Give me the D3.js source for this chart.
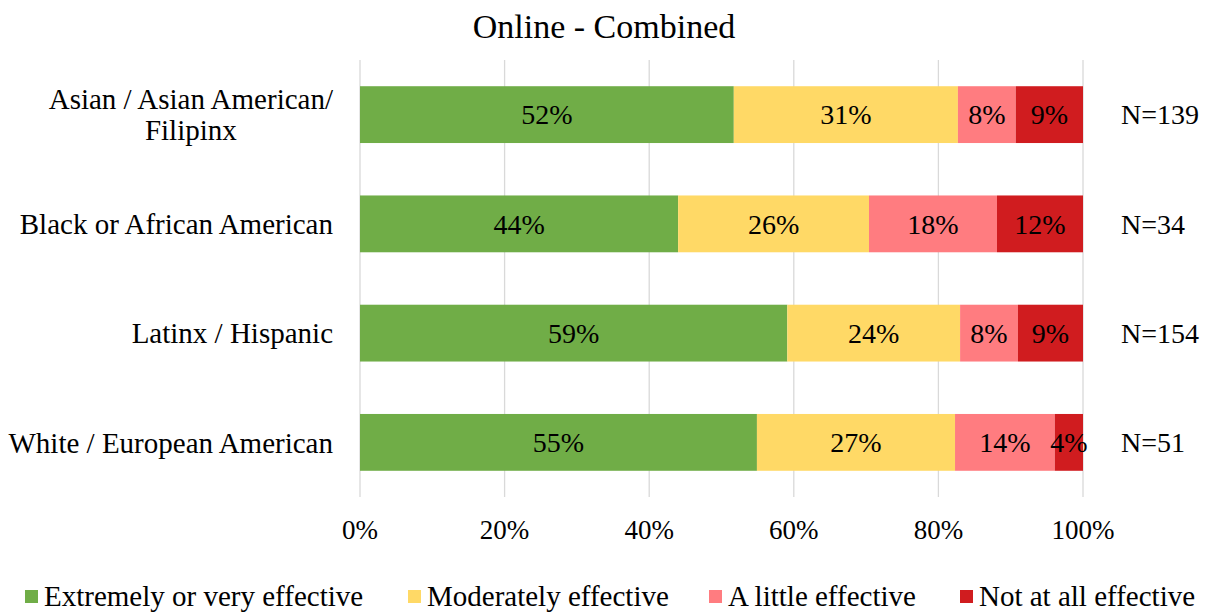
<!DOCTYPE html>
<html>
<head>
<meta charset="utf-8">
<script src="https://cdn.jsdelivr.net/npm/d3@7"></script>
<style>
body { margin: 0; background: #fff; }
text { font-family: "Liberation Serif", "Times New Roman", serif; fill: #000; }
</style>
</head>
<body>
<div id="chart"></div>
<script>
var width = 1206,
        height = 615;

var groups = ["Asian / Asian American/\nFilipinx", "Black or African American", "Latinx / Hispanic", "White / European American"];
var counts = ["N=139", "N=34", "N=154", "N=51"];
var seriesNames = ["Extremely or very effective", "Moderately effective", "A little effective", "Not at all effective"];
var colors = ["#70AD47", "#FFD966", "#FF7C80", "#D01C1F"];
var extremely = [51.7, 44.0, 59.1, 54.9];
var moderately = [31.0, 26.4, 23.9, 27.4];
var little = [8.0, 17.7, 8.0, 13.8];
var notAtAll = [9.3, 11.9, 9.0, 3.9];
var ticks = [0, 20, 40, 60, 80, 100];

var series = [extremely, moderately, little, notAtAll];

var svg = d3.select("#chart").append("svg")
        .attr("width", width)
        .attr("height", height);

var x = d3.scaleLinear().domain([0, 100]).range([360, 1083]);
var y = d3.scaleBand().domain(d3.range(groups.length)).range([60, 497]).paddingInner(0.48).paddingOuter(0.24);

// title
svg.append("text")
        .attr("x", 604)
        .attr("y", 38)
        .attr("text-anchor", "middle")
        .attr("font-size", 34)
        .text("Online - Combined");

// gridlines
svg.append("g").selectAll("line")
        .data(ticks)
        .enter().append("line")
        .attr("x1", function (d) { return x(d); })
        .attr("x2", function (d) { return x(d); })
        .attr("y1", 60)
        .attr("y2", 497)
        .attr("stroke", "#D9D9D9")
        .attr("stroke-width", 1.3);

// stacked bars
var bars = svg.append("g");
groups.forEach(function (g, i) {
    var start = 0;
    series.forEach(function (s, k) {
        var v = s[i];
        bars.append("rect")
                .attr("x", x(start))
                .attr("y", y(i))
                .attr("width", x(start + v) - x(start))
                .attr("height", y.bandwidth())
                .attr("fill", colors[k]);
        bars.append("text")
                .attr("x", (x(start) + x(start + v)) / 2)
                .attr("y", y(i) + y.bandwidth() / 2)
                .attr("dy", "0.35em")
                .attr("text-anchor", "middle")
                .attr("font-size", 28)
                .text(Math.round(v) + "%");
        start += v;
    });
});

// category labels
var cats = svg.append("g");
groups.forEach(function (g, i) {
    var lines = g.split("\n");
    var t = cats.append("text")
            .attr("x", 333)
            .attr("text-anchor", "middle")
            .attr("font-size", 29);
    var cy = y(i) + y.bandwidth() / 2;
    if (lines.length > 1) {
        lines.forEach(function (l, j) {
            t.append("tspan")
                    .attr("y", cy + (j - 0.5) * 31)
                    .attr("dy", "0.35em")
                    .text(l);
        });
        // center lines around a common axis, right edge at 333
        var maxW = 0;
        t.selectAll("tspan").each(function () {
            maxW = Math.max(maxW, this.getComputedTextLength());
        });
        t.selectAll("tspan").attr("x", 333 - maxW / 2);
    } else {
        t.attr("text-anchor", "end")
                .attr("y", cy)
                .attr("dy", "0.35em")
                .text(g);
    }
});

// N labels
svg.append("g").selectAll("text")
        .data(counts)
        .enter().append("text")
        .attr("x", 1121)
        .attr("y", function (d, i) { return y(i) + y.bandwidth() / 2; })
        .attr("dy", "0.35em")
        .attr("font-size", 28)
        .text(function (d) { return d; });

// x axis tick labels
svg.append("g").selectAll("text")
        .data(ticks)
        .enter().append("text")
        .attr("x", function (d) { return x(d); })
        .attr("y", 530)
        .attr("dy", "0.35em")
        .attr("text-anchor", "middle")
        .attr("font-size", 27)
        .text(function (d) { return d + "%"; });

// legend
var legendX = [25, 408, 709, 960];
var legend = svg.append("g");
seriesNames.forEach(function (n, k) {
    legend.append("rect")
            .attr("x", legendX[k])
            .attr("y", 590)
            .attr("width", 13)
            .attr("height", 13)
            .attr("fill", colors[k]);
    legend.append("text")
            .attr("x", legendX[k] + 19)
            .attr("y", 606)
            .attr("font-size", 29)
            .text(n);
});
</script>
</body>
</html>
